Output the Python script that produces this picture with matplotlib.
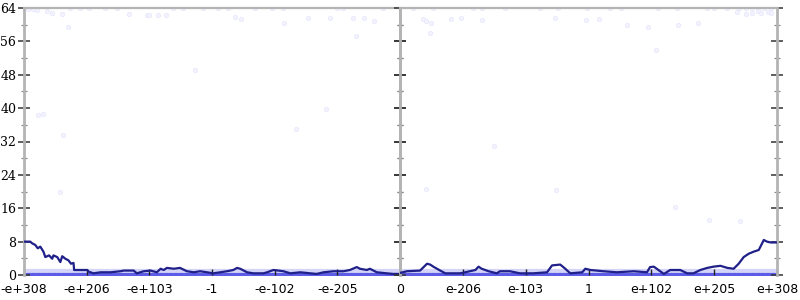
import numpy as np
import matplotlib
matplotlib.use("Agg")
import matplotlib.pyplot as plt
from matplotlib.ticker import MultipleLocator

# ---------------- data ----------------
left_ticks = [-6, -5, -4, -3, -2, -1]
left_labels = ['-e+308', '-e+206', '-e+103', '-1', '-e-102', '-e-205']
right_ticks = [0, 1, 2, 3, 4, 5, 6]
right_labels = ['0', 'e-206', 'e-103', '1', 'e+102', 'e+205', 'e+308']

# running-average line (x in tick units, y in ulps)
left_x = [-6.0, -5.90, -5.87, -5.82, -5.78, -5.74, -5.69, -5.66, -5.60, -5.55,
          -5.53, -5.47, -5.42, -5.39, -5.34, -5.29, -5.25, -5.21, -5.20, -4.99,
          -4.97, -4.89, -4.78, -4.62, -4.46, -4.41, -4.25, -4.20, -4.09, -3.98,
          -3.88, -3.82, -3.77, -3.72, -3.61, -3.51, -3.40, -3.29, -3.19, -3.08,
          -2.98, -2.87, -2.76, -2.66, -2.60, -2.55, -2.44, -2.34, -2.18, -2.12,
          -2.02, -1.94, -1.86, -1.75, -1.59, -1.43, -1.33, -1.22, -1.06, -0.90,
          -0.80, -0.69, -0.64, -0.53, -0.48, -0.37, -0.21, -0.11, 0.0]
left_y = [8.0, 8.0, 7.6, 7.2, 6.4, 6.8, 5.6, 4.3, 4.7, 3.9,
          4.7, 4.3, 3.1, 4.5, 3.9, 3.5, 2.7, 2.9, 1.2, 1.2,
          0.8, 0.4, 0.65, 0.65, 0.9, 1.06, 1.06, 0.4, 0.9, 1.06,
          0.65, 1.5, 1.2, 1.7, 1.5, 1.7, 0.9, 0.65, 0.9, 0.65,
          0.4, 0.65, 0.9, 1.2, 1.7, 1.5, 0.65, 0.4, 0.4, 0.65,
          1.2, 1.06, 0.9, 0.4, 0.65, 0.4, 0.25, 0.65, 0.9, 0.9,
          1.2, 1.9, 1.5, 1.2, 1.5, 0.65, 0.4, 0.25, 0.25]
right_x = [0.0, 0.11, 0.32, 0.43, 0.48, 0.53, 0.64, 0.72, 0.96, 1.20,
           1.25, 1.30, 1.41, 1.54, 1.59, 1.75, 1.91, 2.12, 2.34, 2.42,
           2.55, 2.63, 2.71, 2.90, 2.95, 3.03, 3.24, 3.45, 3.72, 3.93,
           3.98, 4.04, 4.20, 4.30, 4.46, 4.57, 4.67, 4.78, 4.89, 4.99,
           5.10, 5.21, 5.31, 5.39, 5.47, 5.55, 5.63, 5.71, 5.79, 5.84,
           5.90, 6.0]
right_y = [0.5, 0.9, 1.06, 2.7, 2.5, 2.0, 1.06, 0.4, 0.4, 1.2,
           2.0, 1.5, 0.9, 0.4, 0.9, 0.9, 0.4, 0.4, 0.65, 2.3,
           2.5, 1.5, 0.4, 0.65, 1.5, 1.2, 0.9, 0.65, 0.9, 0.65,
           1.9, 2.0, 0.25, 1.2, 1.2, 0.4, 0.4, 1.2, 1.7, 2.0,
           2.2, 1.7, 1.5, 2.7, 4.3, 5.1, 5.6, 6.0, 8.4, 8.0,
           7.8, 7.8]

# sparse individual samples (faint points)
pts_left_x = [-5.93, -5.85, -5.80, -5.63, -5.55, -5.39, -5.29, -5.26, -5.10, -4.97,
              -4.70, -4.51, -4.33, -4.03, -4.00, -3.86, -3.73, -3.62, -3.47, -3.14,
              -2.90, -2.74, -2.63, -2.53, -2.31, -2.04, -1.86, -1.85, -1.47, -1.12,
              -1.00, -0.91, -0.75, -0.70, -0.57, -0.41, -0.27,
              -3.27, -5.77, -5.69, -5.38, -5.43, -1.18, -1.66]
pts_left_y = [63.8, 63.8, 63.6, 63.4, 62.9, 62.6, 59.4, 64, 64, 64,
              64, 64, 62.5, 62.3, 62.3, 62.3, 62.3, 64, 64, 64,
              64, 64, 61.8, 61.4, 64, 64, 64, 60.3, 61.6, 61.6,
              64, 64, 61.6, 57.4, 61.6, 60.9, 64,
              49.2, 38.4, 38.6, 33.6, 20.0, 39.9, 35.1]
pts_right_x = [0.21, 0.53, 1.16, 1.31, 1.67, 2.23, 2.52, 2.98, 3.35, 3.51,
               4.10, 4.41, 4.89, 5.00, 5.20, 5.40, 5.50, 5.60, 5.70, 5.80, 5.90,
               0.36, 0.41, 0.49, 0.48, 0.81, 0.97, 1.31, 2.47, 2.96, 3.17,
               3.61, 3.95, 4.43, 4.74, 5.37, 5.50, 5.60, 5.70, 5.75, 5.85, 5.90,
               4.07, 1.50, 0.42, 2.49, 4.38, 4.92, 5.41]
pts_right_y = [64, 64, 64, 64, 64, 64, 64, 64, 64, 64,
               64, 64, 64, 64, 64, 64, 64, 64, 64, 64, 64,
               61.4, 61.0, 60.3, 57.9, 61.3, 61.7, 61.1, 61.5, 61.1, 61.4,
               59.9, 59.4, 59.9, 60.3, 63.0, 62.6, 62.8, 63.2, 62.7, 63.0, 62.9,
               53.9, 30.9, 20.7, 20.4, 16.4, 13.2, 13.0]

# dense band of exact (0 ulp) and 1-ulp results
band_values = [1, 0]
band_colors = ['#d4d4f8', '#5c5ce6']

# ---------------- drawing ----------------
fig = plt.figure(figsize=(8, 3), dpi=100)
axL = fig.add_axes([24/800, 25/300, 376/800, 267/300])
axR = fig.add_axes([400/800, 25/300, 377/800, 267/300])

spine_col = '#b4b4b4'
line_col = '#20208a'

for ax, xlo, xhi, lx, ly, px, py, ticks, labels in (
        (axL, -6, 0, left_x, left_y, pts_left_x, pts_left_y, left_ticks, left_labels),
        (axR, 0, 6, right_x, right_y, pts_right_x, pts_right_y, right_ticks, right_labels)):
    ax.set_xlim(xlo, xhi)
    ax.set_ylim(0, 64)
    bx = np.linspace(xlo, xhi, 300)
    for v, c in zip(band_values, band_colors):
        ax.scatter(bx, np.full_like(bx, v), s=14, color=c, linewidths=0, zorder=1)
    ax.scatter(px, py, s=10, facecolor='#f3f3ff', edgecolor='#e6e6fc',
               linewidths=0.5, zorder=2)
    ax.plot(lx, ly, color=line_col, lw=1.6, zorder=3, solid_joinstyle='round')

    ax.yaxis.set_major_locator(MultipleLocator(8))
    ax.yaxis.set_minor_locator(MultipleLocator(4))
    ax.tick_params(axis='y', which='major', direction='inout', length=8, width=1.1,
                   color='#333333', left=True, right=True, pad=1.5,
                   labelsize=9)
    ax.tick_params(axis='y', which='minor', direction='inout', length=4.5, width=0.9,
                   color='#888888', left=True, right=True)
    ax.set_xticks(ticks)
    ax.set_xticklabels(labels, fontsize=9, family='DejaVu Sans')
    ax.tick_params(axis='x', which='major', direction='in', length=4.5, width=1.0,
                   color='#222222', pad=6)
    for s in ('left', 'right'):
        ax.spines[s].set_color(spine_col)
        ax.spines[s].set_linewidth(2)
    ax.spines['top'].set_color(spine_col)
    ax.spines['top'].set_linewidth(1.6)
    ax.spines['bottom'].set_visible(False)
    ax.set_facecolor('none')

axL.set_yticks([0, 8, 16, 24, 32, 40, 48, 56, 64])
for t in axL.get_yticklabels():
    t.set_family('DejaVu Serif')
axR.tick_params(axis='y', labelleft=False)

fig.savefig('out.png', dpi=100)
